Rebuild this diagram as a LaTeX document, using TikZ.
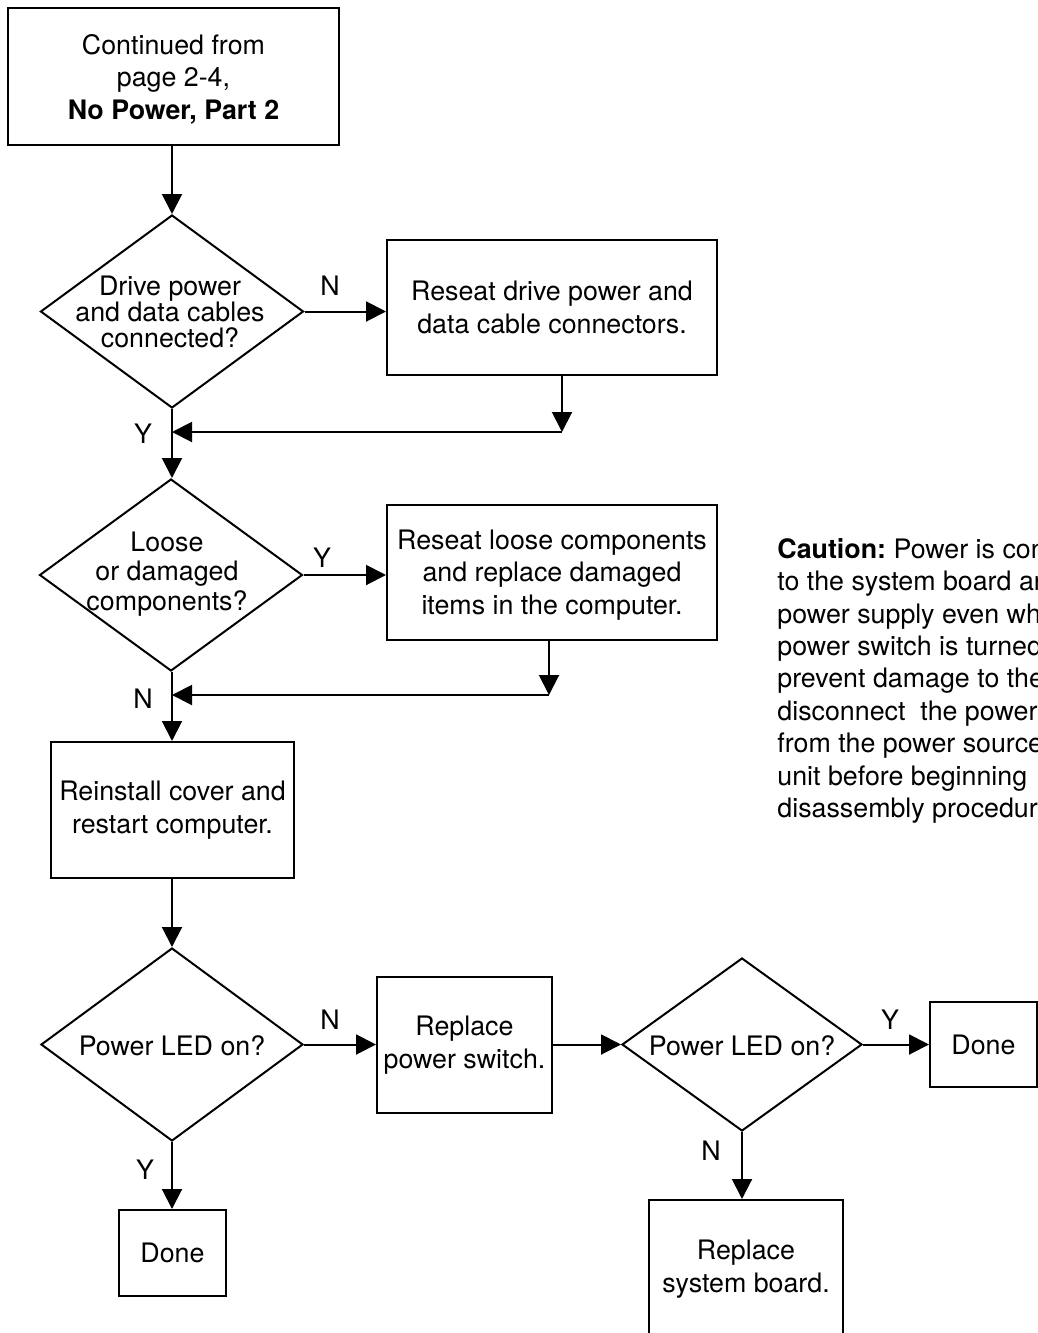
\documentclass[tikz,border=0pt]{standalone}
\usepackage{fontspec}
\setmainfont{TeX Gyre Heros}
\usetikzlibrary{shapes.geometric,arrows.meta}
\newcommand\ff{\fontsize{13.4pt}{16.2pt}\selectfont}
\frenchspacing
\begin{document}
\begin{tikzpicture}[x=0.5pt,y=-0.5pt,
  every node/.style={font=\ff},
  box/.style={draw,line width=1pt,inner sep=0pt,align=center},
  dia/.style={draw,line width=1pt,diamond,inner sep=0pt},
  arr/.style={line width=1pt,-{Triangle[length=10pt,width=10pt]}},
  lbl/.style={inner sep=0pt}]
\useasboundingbox (0,0) rectangle (1038,1333);
\clip (0,0) rectangle (1038,1333);
% boxes
\node[box,minimum width=165.5pt,minimum height=68.5pt] (b1) at (173.5,76.5) {};
\node[align=center,inner sep=0pt] at (173.5,79) {Continued from\\page 2-4,\\\textbf{No Power, Part 2}};
\node[box,minimum width=165pt,minimum height=67.5pt] (b2) at (552,307.5) {Reseat drive power and\\data cable connectors.};
\node[box,minimum width=165pt,minimum height=67.5pt] (b3) at (552,572.5) {};
\node[align=center,inner sep=0pt] at (552,575) {Reseat loose components\\and replace damaged\\items in the computer.};
\node[box,minimum width=121.5pt,minimum height=68pt] (b4) at (172.5,810) {Reinstall cover and\\restart computer.};
\node[box,minimum width=87.5pt,minimum height=68pt] (b5) at (464.5,1045) {Replace\\power switch.};
\node[box,minimum width=53.5pt,minimum height=42.5pt] (done2) at (983.5,1044.5) {Done};
\node[box,minimum width=97pt,minimum height=69pt] (b7) at (746,1269) {Replace\\system board.};
\node[box,minimum width=53.5pt,minimum height=43pt] (done1) at (172.5,1253) {Done};
% diamonds
\node[dia,minimum width=131.5pt,minimum height=96.5pt] (d1) at (172,311.5) {};
\node[align=center,font=\fontsize{13.4pt}{13pt}\selectfont] at (170,312) {Drive power\\and data cables\\connected?};
\node[dia,minimum width=131.5pt,minimum height=96pt] (d2) at (171,575) {};
\node[align=center,font=\fontsize{13.4pt}{14.7pt}\selectfont] at (167,574) {Loose\\or damaged\\components?};
\node[dia,minimum width=131pt,minimum height=96.5pt] (d3) at (172,1044.5) {};
\node at (172,1046) {Power LED on?};
\node[dia,minimum width=120pt,minimum height=86.5pt] (d4) at (742,1044.5) {};
\node at (742,1046) {Power LED on?};
% junction coordinates
\coordinate (j1) at (562,432);
\coordinate (t1) at (172,432);
\coordinate (j2) at (549,695);
\coordinate (t2) at (172,695);
% connectors
\draw[arr] (b1.south -| d1.north) -- (d1.north);
\draw[arr] (d1.east) -- (d1.east -| b2.west);
\draw[arr] (b2.south -| j1) -- (j1);
\draw[arr] (j1) -- (t1);
\draw[arr] (d1.south) -- (d2.north -| d1.south);
\draw[arr] (d2.east) -- (d2.east -| b3.west);
\draw[arr] (b3.south -| j2) -- (j2);
\draw[arr] (j2) -- (t2);
\draw[arr] (d2.south -| t2) -- (b4.north -| t2);
\draw[arr] (b4.south -| d3.north) -- (d3.north);
\draw[arr] (d3.east) -- (d3.east -| b5.west);
\draw[arr] (b5.east |- d4.west) -- (d4.west);
\draw[arr] (d4.east) -- (d4.east -| done2.west);
\draw[arr] (d4.south) -- (d4.south |- b7.north);
\draw[arr] (d3.south) -- (d3.south |- done1.north);
% labels
\node[lbl] at (330,286) {N};
\node[lbl] at (143,434) {Y};
\node[lbl] at (322,558) {Y};
\node[lbl] at (143,699) {N};
\node[lbl] at (330,1020) {N};
\node[lbl] at (145,1170) {Y};
\node[lbl] at (890,1020) {Y};
\node[lbl] at (711,1151) {N};
% caution
\node[anchor=north west,inner sep=0pt,align=left] (caution) at (777,538) {\textbf{Caution:} Power is con\\to the system board an\\power supply even wh\\power switch is turned\\prevent damage to the\\disconnect\ \ the power\\from the power source\\unit before beginning\\disassembly procedure};
\end{tikzpicture}
\end{document}
